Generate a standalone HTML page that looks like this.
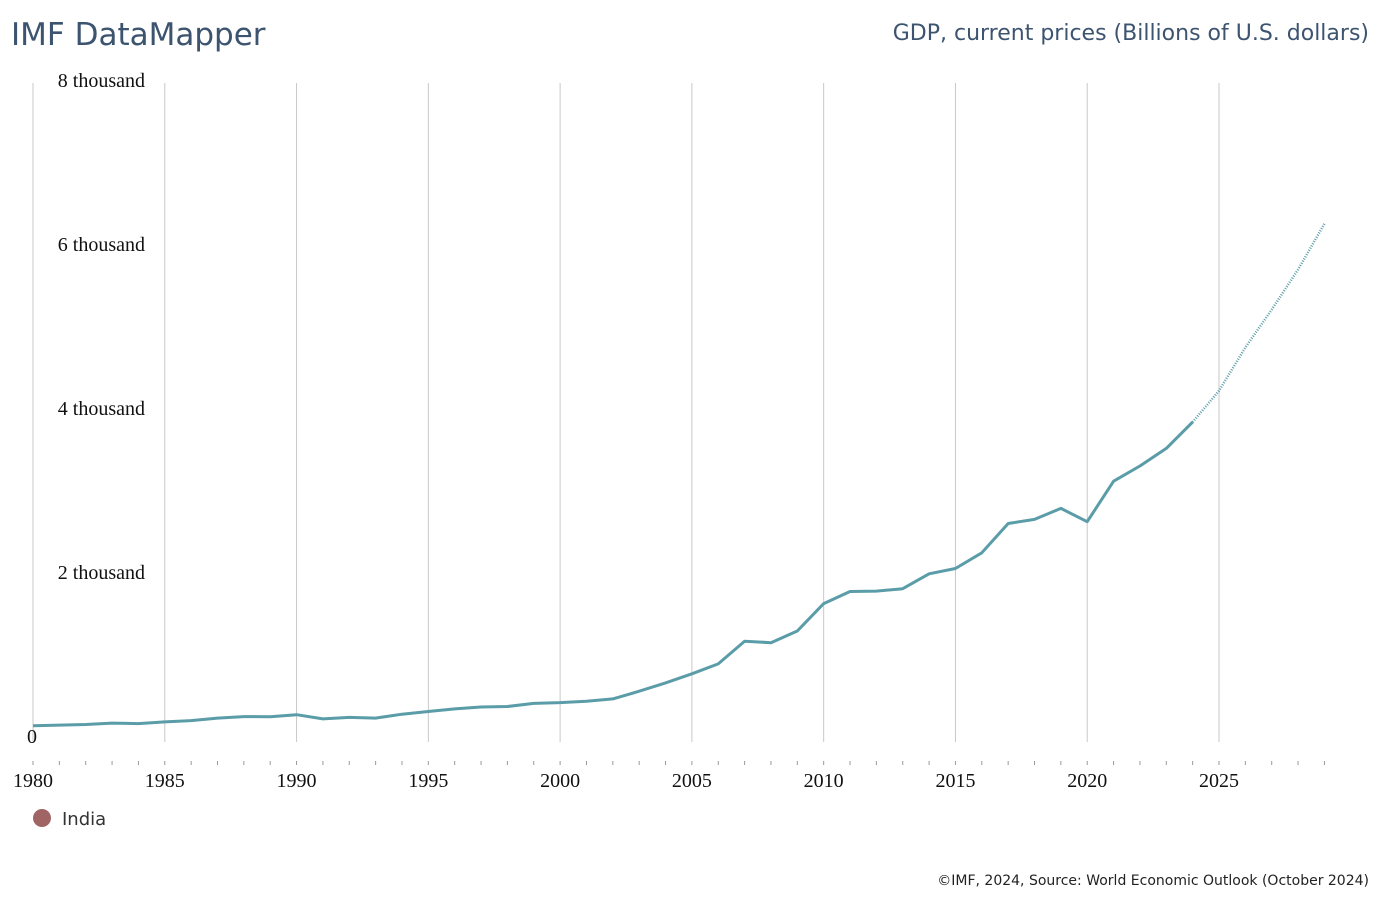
<!DOCTYPE html>
<html><head><meta charset="utf-8"><style>
body{margin:0;background:#fff;width:1380px;height:900px;overflow:hidden;}
svg{display:block}
</style></head><body>
<svg width="1380" height="900">
<text x="11" y="45" font-family="DejaVu Sans, sans-serif" font-size="31" fill="#3d5470">IMF DataMapper</text>
<text x="1369" y="40" text-anchor="end" font-family="DejaVu Sans, sans-serif" font-size="22" fill="#3d5470">GDP, current prices (Billions of U.S. dollars)</text>
<g id="grid"></g>
<g id="yl"></g>
<g id="xl"></g>
<g id="series"></g>
<circle cx="42" cy="818" r="9" fill="#a06464"/>
<text x="62" y="825" font-family="DejaVu Sans, sans-serif" font-size="18" fill="#333">India</text>
<text x="1369" y="885" text-anchor="end" font-family="DejaVu Sans, sans-serif" font-size="14" fill="#222">©IMF, 2024, Source: World Economic Outlook (October 2024)</text>
</svg>
<script>
const years=[1980,1981,1982,1983,1984,1985,1986,1987,1988,1989,1990,1991,1992,1993,1994,1995,1996,1997,1998,1999,2000,2001,2002,2003,2004,2005,2006,2007,2008,2009,2010,2011,2012,2013,2014,2015,2016,2017,2018,2019,2020,2021,2022,2023,2024,2025,2026,2027,2028,2029];
const gdp=[186,194,201,218,212,233,249,279,297,296,321,270,288,279,327,360,392,415,421,458,468,485,514,607,709,820,940,1217,1199,1342,1676,1823,1828,1857,2039,2104,2295,2652,2703,2836,2674,3168,3354,3568,3889,4271,4800,5260,5750,6307];
const lastActual=2024;
const yTicks=[0,2000,4000,6000,8000];
const yTickLabels=["0","2 thousand","4 thousand","6 thousand","8 thousand"];
const xMajor=[1980,1985,1990,1995,2000,2005,2010,2015,2020,2025];
const NS='http://www.w3.org/2000/svg';
const x=v=>33+(v-1980)*(1219-33)/45;
const y=v=>741-v*(741-85)/8000;
function mk(t,a,p){const e=document.createElementNS(NS,t);for(const k in a)e.setAttribute(k,a[k]);p.appendChild(e);return e;}
const grid=document.getElementById('grid'),yl=document.getElementById('yl'),xl=document.getElementById('xl'),ser=document.getElementById('series');
xMajor.forEach(v=>{
 const l=mk('line',{x1:x(v),x2:x(v),y1:83,y2:742,stroke:'#c8c8c8','stroke-width':1},grid);
 
 
 const t=mk('text',{x:x(v),y:787,'text-anchor':'middle','font-family':'Liberation Serif, serif','font-size':20,fill:'#111'},xl);
 t.textContent=v;
 
 
});
years.forEach(v=>{
 const l=mk('line',{x1:x(v),x2:x(v),y1:761,y2:765,stroke:'#999','stroke-width':1},xl);
 
 
});
yTicks.forEach((v,i)=>{
 const t=mk('text',{x:v===0?27:145,y:y(v)+2,'text-anchor':v===0?'start':'end','font-family':'Liberation Serif, serif','font-size':20,fill:'#111'},yl);
 t.textContent=yTickLabels[i];
 
 
});
const act=[],fc=[];
years.forEach((yr,i)=>{const p=x(yr).toFixed(1)+','+y(gdp[i]).toFixed(1);if(yr<=lastActual)act.push(p);if(yr>=lastActual)fc.push(p);});
const pa=mk('polyline',{points:act.join(' '),fill:'none',stroke:'#5a9ca8','stroke-width':3,'stroke-linejoin':'round'},ser);


const pf=mk('polyline',{points:fc.join(' '),fill:'none',stroke:'#5a9ca8','stroke-width':2.5,'stroke-dasharray':'1 1.5'},ser);


</script>
</body></html>
